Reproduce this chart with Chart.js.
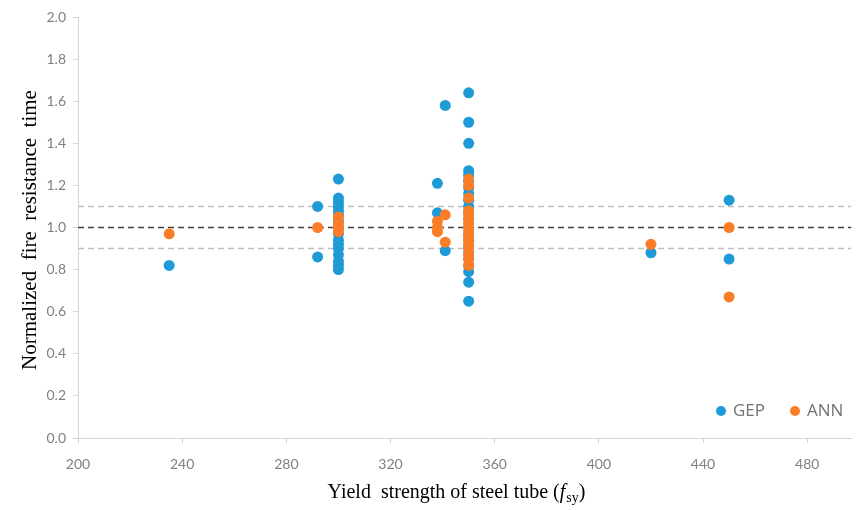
<!DOCTYPE html>
<html>
<head>
<meta charset="utf-8">
<script src="https://cdn.jsdelivr.net/npm/chart.js@4/dist/chart.umd.min.js"></script>
<style>
  html, body { margin: 0; padding: 0; background: #ffffff; }
  #wrap { width: 857px; height: 510px; }
</style>
</head>
<body>
<div id="wrap"><canvas id="chart" width="857" height="510"></canvas></div>
<script>
// Yield strength of steel tube (MPa) and normalized fire resistance time
const gepFsy = [235, 292, 292,
  300, 300, 300, 300, 300, 300, 300, 300, 300, 300, 300, 300, 300, 300, 300, 300,
  338, 338, 341, 341,
  350, 350, 350, 350, 350, 350, 350, 350, 350, 350, 350, 350, 350, 350, 350, 350, 350, 350, 350, 350, 350, 350,
  420, 450, 450];
const gepRatio = [0.82, 1.10, 0.86,
  1.23, 1.14, 1.12, 1.10, 1.08, 1.06, 1.03, 1.00, 0.97, 0.94, 0.92, 0.90, 0.87, 0.84, 0.82, 0.80,
  1.21, 1.07, 1.58, 0.89,
  1.64, 1.50, 1.40, 1.27, 1.25, 1.22, 1.19, 1.16, 1.13, 1.10, 1.07, 1.04, 1.00, 0.97, 0.94, 0.91, 0.88, 0.85, 0.82, 0.79, 0.74, 0.65,
  0.88, 1.13, 0.85];

const annFsy = [235, 292,
  300, 300, 300, 300,
  338, 338, 338, 341, 341,
  350, 350, 350, 350, 350, 350, 350, 350, 350, 350, 350, 350, 350, 350, 350, 350,
  420, 450, 450];
const annRatio = [0.97, 1.00,
  1.05, 1.02, 1.00, 0.98,
  1.03, 1.00, 0.98, 1.06, 0.93,
  1.23, 1.20, 1.14, 1.08, 1.06, 1.04, 1.02, 1.00, 0.98, 0.96, 0.94, 0.92, 0.90, 0.87, 0.85, 0.82,
  0.92, 1.00, 0.67];

// Horizontal reference levels (±10 % band around 1.0)
const refLevels = [1.1, 1.0, 0.9];
const refColors = ['#bfbfbf', '#404040', '#bfbfbf'];

const xTicks = [200, 240, 280, 320, 360, 400, 440, 480];
const yTicks = [0.0, 0.2, 0.4, 0.6, 0.8, 1.0, 1.2, 1.4, 1.6, 1.8, 2.0];
const xMin = 200, xMax = 497, yMin = 0, yMax = 2;

const toPoints = (xs, ys) => xs.map((x, i) => ({ x: x, y: ys[i] }));

const refDatasets = refLevels.map((lvl, i) => ({
  label: 'ref' + i,
  isRef: true,
  type: 'line',
  data: [{ x: xMin, y: lvl }, { x: xMax, y: lvl }],
  borderColor: refColors[i],
  borderWidth: 1.5,
  borderDash: [6, 4],
  pointRadius: 0,
  fill: false,
  order: 5
}));

const axisGrey = '#d4d4d4';
const tickFont = { family: 'Lato', size: 14 };

// Axis titles and the in-plot legend
const decorPlugin = {
  id: 'decor',
  afterDraw(chart) {
    const ctx = chart.ctx;
    ctx.save();
    ctx.fillStyle = '#000000';
    ctx.textBaseline = 'middle';

    // y title
    ctx.save();
    ctx.translate(30, 230);
    ctx.rotate(-Math.PI / 2);
    ctx.font = '21px "Liberation Serif"';
    ctx.textAlign = 'center';
    ctx.fillText('Normalized  fire  resistance  time', 0, 0);
    ctx.restore();

    // x title with italic f and subscript sy
    const parts = [
      { t: 'Yield  strength of steel tube (', f: '20px "Liberation Serif"', dy: 0 },
      { t: 'f', f: 'italic 20px "Liberation Serif"', dy: 0 },
      { t: 'sy', f: '14px "Liberation Serif"', dy: 5 },
      { t: ')', f: '20px "Liberation Serif"', dy: 0 }
    ];
    let total = 0;
    parts.forEach(p => { ctx.font = p.f; p.w = ctx.measureText(p.t).width; total += p.w; });
    let x = 456 - total / 2;
    const y = 493;
    ctx.textAlign = 'left';
    parts.forEach(p => { ctx.font = p.f; ctx.fillText(p.t, x, y + p.dy); x += p.w + (p.t === 'f' ? 1 : 0); });

    // legend
    const items = chart.data.datasets.filter(d => !d.isRef)
      .sort((a, b) => a.legendIndex - b.legendIndex);
    const legendPos = [721, 795];
    ctx.font = '17px "Open Sans"';
    items.forEach((d, i) => {
      const cx = legendPos[i];
      const cy = 411;
      ctx.beginPath();
      ctx.arc(cx, cy, 5, 0, Math.PI * 2);
      ctx.fillStyle = d.backgroundColor;
      ctx.fill();
      ctx.fillStyle = '#737373';
      ctx.fillText(d.label, cx + 12, cy);
    });
    ctx.restore();
  }
};

new Chart(document.getElementById('chart'), {
  type: 'scatter',
  data: {
    datasets: [
      {
        label: 'ANN',
        legendIndex: 1,
        data: toPoints(annFsy, annRatio),
        backgroundColor: '#fb7d28',
        borderColor: '#fb7d28',
        pointRadius: 5.5,
        pointBorderWidth: 0,
        order: 0
      },
      {
        label: 'GEP',
        legendIndex: 0,
        data: toPoints(gepFsy, gepRatio),
        backgroundColor: '#1e9ad6',
        borderColor: '#1e9ad6',
        pointRadius: 5.5,
        pointBorderWidth: 0,
        order: 1
      },
      ...refDatasets
    ]
  },
  options: {
    responsive: false,
    animation: false,
    events: [],
    layout: { padding: { top: 17, right: -5, left: 0, bottom: 0 } },
    plugins: {
      legend: { display: false },
      tooltip: { enabled: false }
    },
    scales: {
      x: {
        type: 'linear',
        min: xMin,
        max: xMax,
        afterBuildTicks: s => { s.ticks = xTicks.map(v => ({ value: v })); },
        afterFit: s => { s.height = 72; s.paddingRight = 0; s.paddingLeft = 0; },
        border: { color: axisGrey, width: 1 },
        grid: { display: true, drawOnChartArea: false, drawTicks: true, tickLength: 5, color: axisGrey },
        ticks: { color: '#808080', font: tickFont, padding: 13, maxRotation: 0, callback: v => String(v) }
      },
      y: {
        type: 'linear',
        min: yMin,
        max: yMax,
        afterBuildTicks: s => { s.ticks = yTicks.map(v => ({ value: v })); },
        afterFit: s => { s.width = 78; s.paddingTop = 0; s.paddingBottom = 0; },
        border: { color: axisGrey, width: 1 },
        grid: { display: true, drawOnChartArea: false, drawTicks: true, tickLength: 5, color: axisGrey },
        ticks: { color: '#808080', font: tickFont, padding: 7, callback: v => Number(v).toFixed(1) }
      }
    }
  },
  plugins: [decorPlugin]
});
</script>
</body>
</html>
